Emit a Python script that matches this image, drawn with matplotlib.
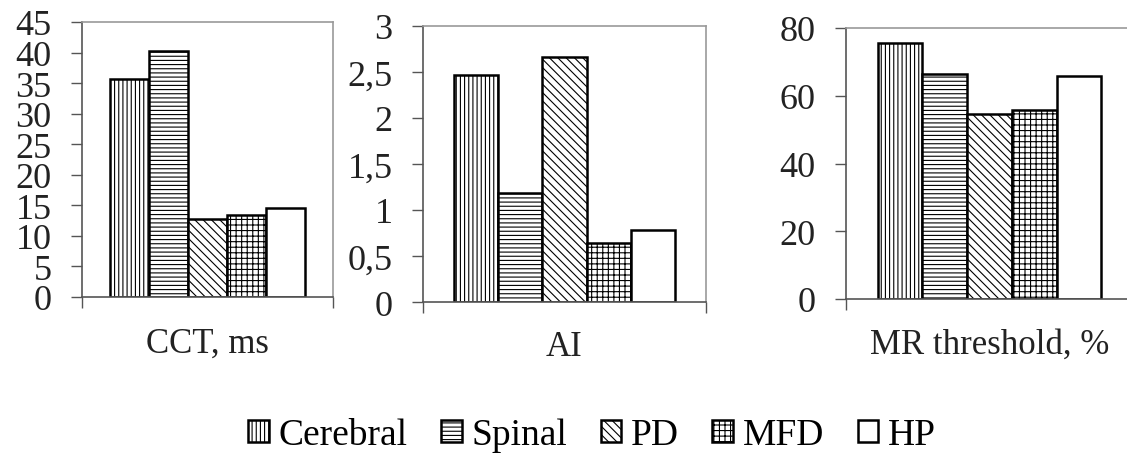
import numpy as np
import matplotlib
matplotlib.use("Agg")
import matplotlib.pyplot as plt
from matplotlib.ticker import FuncFormatter, MultipleLocator

groups = ['Cerebral', 'Spinal', 'PD', 'MFD', 'HP']
hatches = ['||||', '----', '\\\\\\\\', '+++', '']

cct = [35.6, 40.2, 12.8, 13.4, 14.5]
ai = [2.47, 1.18, 2.66, 0.64, 0.78]
mr = [75.6, 66.4, 54.5, 55.7, 65.7]

labels = ['CCT, ms', 'AI', 'MR threshold, %']
ymax = [45, 3, 80]
ystep = [5, 0.5, 20]

plt.rcParams['font.family'] = ['Liberation Serif', 'DejaVu Serif']
plt.rcParams['hatch.linewidth'] = 0.8
plt.rcParams['hatch.color'] = 'black'


def comma(v, pos):
	s = '%g' % v
	return s.replace('.', ',')


def panel(fig, rect, vals, label, top, step, lpad, right_spine=True):
	ax = fig.add_axes(rect)
	w = 0.156
	x = (np.arange(len(vals)) - 2) * w
	for xi, v, h, g in zip(x, vals, hatches, groups):
		ax.bar(xi, v, width=w, color='white', edgecolor='black', lw=1.8,
			hatch=h, label=g)
	ax.set_xlim(-0.5, 0.5)
	ax.set_ylim(0, top)
	ax.yaxis.set_major_locator(MultipleLocator(step))
	ax.yaxis.set_major_formatter(FuncFormatter(comma))
	ax.set_xticks([-0.5, 0.5])
	ax.set_xticklabels(['', ''])
	ax.tick_params(axis='both', direction='out', length=8, width=1, color='#555555')
	ax.tick_params(axis='y', labelsize=26, pad=14, labelcolor='#222222')
	ax.set_xlabel(label, fontsize=25, labelpad=lpad, color='#222222')
	for s in ['left', 'bottom']:
		ax.spines[s].set_color('#555555')
		ax.spines[s].set_linewidth(1.2)
	for s in ['top', 'right']:
		ax.spines[s].set_color('#999999')
		ax.spines[s].set_linewidth(1.2)
	ax.spines['right'].set_visible(right_spine)
	return ax


fig = plt.figure(figsize=(11.27, 4.56), dpi=100)
fig.patch.set_facecolor('white')

a1 = panel(fig, [82/1127, 1-298/456, 251/1127, 275/456], cct, labels[0], ymax[0], ystep[0], 10)
a2 = panel(fig, [423/1127, 1-303/456, 283/1127, 276/456], ai, labels[1], ymax[1], ystep[1], 9)
a3 = panel(fig, [846/1127, 1-300/456, 287/1127, 271/456], mr, labels[2], ymax[2], ystep[2], 9, right_spine=False)

h, l = a1.get_legend_handles_labels()
fig.legend(h, l, loc='center', bbox_to_anchor=(592/1127, 1-436/456), ncol=5,
	frameon=False, fontsize=27, handlelength=0.55, handleheight=0.55,
	handletextpad=0.25, columnspacing=0.9)

fig.savefig('out.png', dpi=100)
